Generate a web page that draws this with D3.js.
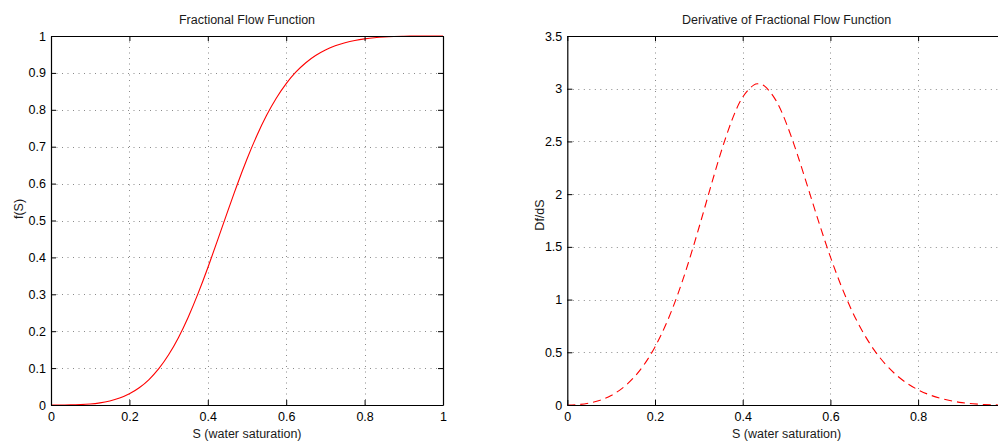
<!DOCTYPE html>
<html>
<head>
<meta charset="utf-8">
<script src="https://cdn.jsdelivr.net/npm/d3@7"></script>
<style>
  html, body { margin: 0; padding: 0; background: #fff; overflow: hidden; }
  svg { display: block; font-family: "Liberation Sans", Arial, Helvetica, sans-serif; }
</style>
</head>
<body>
<svg id="chart" width="998" height="441"></svg>
<script>
// ---- data ----
const saturation = [0, 0.025, 0.05, 0.075, 0.1, 0.125, 0.15, 0.175, 0.2, 0.225, 0.25, 0.275, 0.3, 0.325, 0.35, 0.375, 0.4, 0.425, 0.4375, 0.45, 0.475, 0.5, 0.525, 0.55, 0.575, 0.6, 0.625, 0.65, 0.675, 0.7, 0.725, 0.75, 0.775, 0.8, 0.825, 0.85, 0.875, 0.9, 0.925, 0.95, 0.975, 1];
const fractionalFlow = [0, 0.00003, 0.0003, 0.0011, 0.0027, 0.0058, 0.0109, 0.0187, 0.0303, 0.0467, 0.0690, 0.0984, 0.1360, 0.1825, 0.2379, 0.3017, 0.3721, 0.4468, 0.4848, 0.5228, 0.5970, 0.6667, 0.7298, 0.7850, 0.8320, 0.8710, 0.9025, 0.9276, 0.9471, 0.9621, 0.9734, 0.9818, 0.9879, 0.9922, 0.9953, 0.9973, 0.9985, 0.9993, 0.9997, 0.9999, 1.0, 1];
const flowDerivative = [0, 0.0042, 0.0184, 0.0460, 0.0909, 0.1581, 0.2530, 0.3819, 0.5510, 0.7653, 1.0273, 1.3350, 1.6788, 2.0402, 2.3911, 2.6966, 2.9205, 3.0343, 3.0449, 3.0240, 2.8944, 2.6667, 2.3724, 2.0456, 1.7158, 1.4048, 1.1260, 0.8857, 0.6846, 0.5205, 0.3891, 0.2856, 0.2054, 0.1442, 0.0982, 0.0643, 0.0399, 0.0228, 0.0115, 0.0046, 0.0010, 0];

const xTicks = [0, 0.2, 0.4, 0.6, 0.8, 1];
const xTickLabels = ["0", "0.2", "0.4", "0.6", "0.8", "1"];
const leftYTicks = [0, 0.1, 0.2, 0.3, 0.4, 0.5, 0.6, 0.7, 0.8, 0.9, 1];
const leftYTickLabels = ["0", "0.1", "0.2", "0.3", "0.4", "0.5", "0.6", "0.7", "0.8", "0.9", "1"];
const rightYTicks = [0, 0.5, 1, 1.5, 2, 2.5, 3, 3.5];
const rightYTickLabels = ["0", "0.5", "1", "1.5", "2", "2.5", "3", "3.5"];

const titles = ["Fractional Flow Function", "Derivative of Fractional Flow Function"];
const xLabel = "S (water saturation)";
const yLabels = ["f(S)", "Df/dS"];

// ---- layout ----
const W = 998;
const svg = d3.select("#chart");
const panels = [
  { x0: 51, x1: 443, y0: 36, y1: 405, yDomain: [0, 1], yTicks: leftYTicks, yLabels: leftYTickLabels,
    values: fractionalFlow, dash: null, title: titles[0], ylab: yLabels[0], ylabX: 23, ylabY: 209 },
  { x0: 567.3, x1: 1005.8, y0: 36, y1: 405, yDomain: [0, 3.5], yTicks: rightYTicks, yLabels: rightYTickLabels,
    values: flowDerivative, dash: "8,5", title: titles[1], ylab: yLabels[1], ylabX: 544, ylabY: 215 }
];

const fontSize = "12.5px";

panels.forEach(p => {
  const x = d3.scaleLinear().domain([0, 1]).range([p.x0, p.x1]);
  const y = d3.scaleLinear().domain(p.yDomain).range([p.y1, p.y0]);
  const g = svg.append("g");

  // grid (dotted)
  const grid = g.append("g").attr("stroke", "#8a8a8a").attr("stroke-width", 1)
    .attr("stroke-dasharray", "1,4.5").attr("fill", "none");
  xTicks.filter(t => t > 0 && t < 1).forEach(t => {
    grid.append("line").attr("x1", Math.round(x(t)) + 0.5).attr("x2", Math.round(x(t)) + 0.5)
      .attr("y1", p.y0).attr("y2", p.y1);
  });
  p.yTicks.filter(t => t > p.yDomain[0] && t < p.yDomain[1]).forEach(t => {
    grid.append("line").attr("y1", Math.round(y(t)) + 0.5).attr("y2", Math.round(y(t)) + 0.5)
      .attr("x1", p.x0).attr("x2", p.x1);
  });

  // curve
  const line = d3.line()
    .x((d, i) => x(saturation[i]))
    .y(d => y(d))
    .curve(d3.curveNatural);
  const path = g.append("path").datum(p.values)
    .attr("d", line)
    .attr("fill", "none")
    .attr("stroke", "#ff0000")
    .attr("stroke-width", 1.1);
  if (p.dash) path.attr("stroke-dasharray", p.dash);

  // axes (ticks inside, box on); labels beyond the window edge are left out as in the reference
  const bottom = g.append("g").attr("transform", `translate(0,${p.y1})`)
    .call(d3.axisBottom(x).tickValues(xTicks)
      .tickFormat((d, i) => (x(d) + 4 > W ? "" : xTickLabels[i]))
      .tickSizeInner(-5).tickSizeOuter(0).tickPadding(7));
  const top = g.append("g").attr("transform", `translate(0,${p.y0})`)
    .call(d3.axisTop(x).tickValues(xTicks).tickFormat("")
      .tickSizeInner(-5).tickSizeOuter(0));
  const left = g.append("g").attr("transform", `translate(${p.x0},0)`)
    .call(d3.axisLeft(y).tickValues(p.yTicks).tickFormat((d, i) => p.yLabels[i])
      .tickSizeInner(-5).tickSizeOuter(0).tickPadding(5));
  const right = g.append("g").attr("transform", `translate(${p.x1},0)`)
    .call(d3.axisRight(y).tickValues(p.yTicks).tickFormat("")
      .tickSizeInner(-5).tickSizeOuter(0));

  [bottom, top, left, right].forEach(a => {
    a.selectAll("path.domain").attr("stroke", "#000").attr("stroke-width", 1.2);
    a.selectAll(".tick line").attr("stroke", "#000").attr("stroke-width", 1);
    a.selectAll("text").attr("font-size", fontSize).attr("fill", "#000")
      .attr("font-family", "'Liberation Sans', Arial, Helvetica, sans-serif");
  });

  // title
  g.append("text").attr("x", (p.x0 + p.x1) / 2).attr("y", 24)
    .attr("text-anchor", "middle").attr("font-size", fontSize).attr("fill", "#1a1a1a")
    .text(p.title);
  // x label
  g.append("text").attr("x", (p.x0 + p.x1) / 2).attr("y", 437.5)
    .attr("text-anchor", "middle").attr("font-size", fontSize).attr("fill", "#1a1a1a")
    .text(xLabel);
  // y label
  g.append("text").attr("transform", `translate(${p.ylabX},${p.ylabY}) rotate(-90)`)
    .attr("text-anchor", "middle").attr("font-size", fontSize).attr("fill", "#1a1a1a")
    .text(p.ylab);
});
</script>
</body>
</html>
